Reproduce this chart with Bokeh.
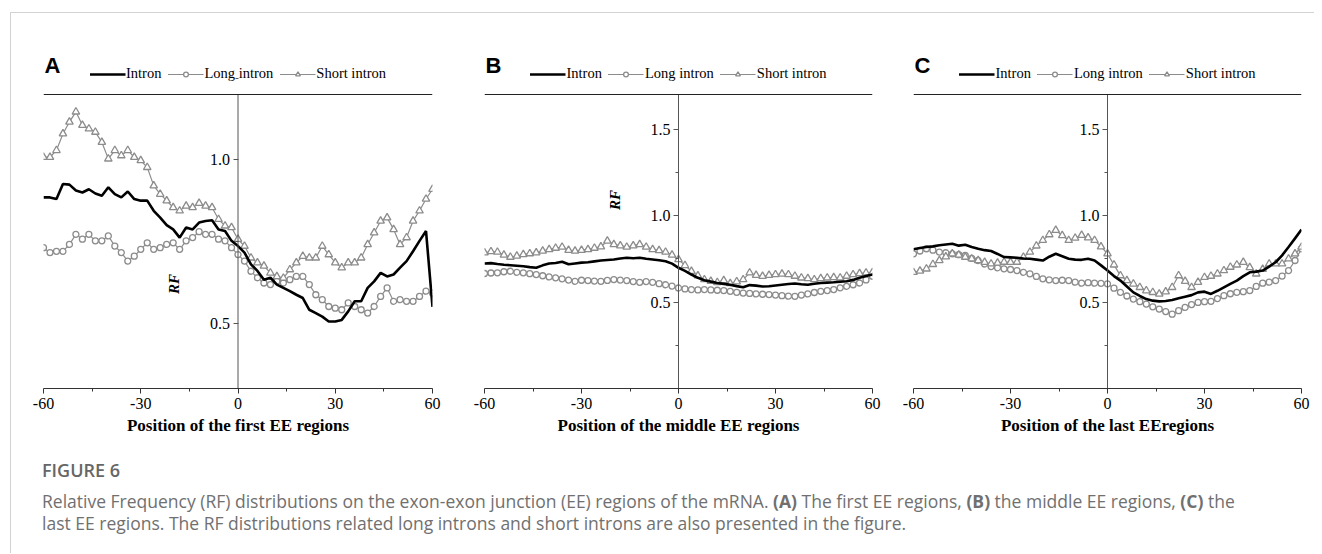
from math import pi
from bokeh.plotting import figure
from bokeh.models import (FixedTicker, PrintfTickFormatter, Legend, LegendItem, Label, Div,
                          Range1d, Span)
from bokeh.layouts import row, column
from bokeh.embed import file_html
from bokeh.resources import INLINE

positions = list(range(-60, 61, 2))

a_intron = [.885, .885, .880, .926, .924, .906, .900, .910, .897, .890, .916, .895, .885, .903, .880, .875,
            .875, .844, .823, .800, .787, .762, .793, .787, .808, .813, .815, .787, .782, .752, .736, .716,
            .680, .660, .633, .639, .618, .608, .598, .587, .577, .541, .531, .520, .505, .505, .510, .536,
            .567, .567, .608, .628, .654, .643, .649, .670, .690, .720, .752, .782, .550]
a_long = [.731, .716, .720, .720, .741, .772, .757, .772, .752, .752, .767, .736, .716, .690, .705, .726,
          .746, .726, .731, .741, .746, .726, .752, .762, .780, .772, .772, .757, .752, .731, .710, .690,
          .659, .639, .623, .618, .628, .623, .633, .643, .643, .618, .587, .572, .551, .546, .541, .562,
          .551, .541, .531, .551, .582, .608, .567, .572, .567, .567, .582, .598, .592]
a_short = [1.008, 1.008, 1.029, 1.080, 1.116, 1.147, 1.106, 1.095, 1.085, 1.054, 1.003, 1.029, 1.013, 1.029,
           1.008, .998, .977, .921, .895, .875, .854, .844, .859, .854, .867, .859, .854, .818, .798, .793,
           .757, .736, .700, .685, .675, .654, .643, .638, .664, .685, .705, .700, .700, .736, .710, .685,
           .670, .685, .685, .700, .741, .777, .813, .823, .787, .741, .762, .813, .844, .880, .910]

b_intron = [.723, .725, .720, .716, .713, .710, .707, .702, .698, .712, .723, .726, .733, .718, .723, .728,
            .730, .735, .740, .743, .746, .752, .756, .753, .756, .750, .746, .742, .736, .722, .698, .680,
            .659, .640, .626, .618, .610, .605, .600, .592, .585, .598, .595, .590, .591, .596, .600, .604,
            .607, .603, .600, .606, .610, .612, .614, .617, .620, .628, .640, .650, .659]
b_long = [.665, .668, .669, .675, .678, .672, .669, .664, .659, .652, .645, .640, .634, .627, .620, .626,
          .624, .621, .620, .625, .630, .627, .624, .618, .614, .618, .614, .606, .600, .592, .581, .576,
          .572, .570, .572, .570, .568, .566, .562, .556, .552, .550, .547, .545, .543, .540, .537, .534,
          .533, .540, .547, .555, .562, .566, .572, .582, .591, .600, .610, .628, .649]
b_short = [.785, .792, .789, .772, .760, .766, .775, .780, .785, .795, .804, .812, .818, .800, .795, .800,
           .804, .812, .820, .853, .833, .826, .818, .826, .833, .818, .804, .798, .789, .772, .746, .712,
           .678, .652, .630, .620, .614, .625, .607, .618, .630, .669, .655, .649, .655, .659, .662, .659,
           .650, .640, .636, .630, .636, .640, .642, .640, .650, .659, .665, .669, .672]

c_intron = [.805, .812, .818, .822, .828, .833, .837, .826, .831, .818, .808, .800, .795, .778, .760, .758,
            .756, .752, .750, .745, .740, .762, .779, .765, .750, .745, .744, .750, .740, .712, .682, .650,
            .624, .590, .556, .535, .517, .508, .504, .506, .512, .522, .531, .540, .556, .560, .547, .565,
            .585, .605, .624, .650, .672, .676, .682, .705, .730, .770, .818, .868, .919]
c_long = [.779, .795, .808, .800, .789, .785, .779, .774, .769, .752, .740, .720, .705, .698, .692, .688,
          .682, .672, .663, .648, .634, .628, .624, .626, .624, .615, .609, .612, .609, .608, .605, .580,
          .556, .535, .517, .502, .488, .472, .459, .445, .430, .450, .469, .485, .498, .502, .504, .520,
          .537, .548, .556, .560, .566, .590, .609, .615, .624, .650, .682, .740, .808]
c_short = [.672, .680, .692, .718, .740, .762, .779, .772, .760, .750, .740, .730, .721, .726, .731, .730,
           .731, .760, .789, .825, .857, .890, .915, .885, .857, .870, .886, .872, .857, .820, .779, .715,
           .653, .625, .605, .585, .566, .556, .547, .560, .585, .653, .620, .585, .615, .643, .650, .663,
           .682, .702, .715, .730, .700, .663, .690, .721, .721, .721, .750, .779, .818]

series_names = ["Intron", "Long intron", "Short intron"]
x_ticks = [-60, -30, 0, 30, 60]
x_minor = [-45, -15, 15, 45]

SERIF = "Liberation Serif"
GRAY = "#8c8c8c"
PLOT_H = 294      # height of the boxed data area (px)
HEAD_H = 76       # legend / letter band above the box (px)
FRAME_H = PLOT_H + HEAD_H
TOP = 5
BOTTOM = 52


def make_panel(letter, xlabel, intron, long_, short, y_start, y_end, yticks, frame_w, left, right,
               rf_y=None):
    y_max = y_start + (y_end - y_start) * FRAME_H / PLOT_H
    p = figure(frame_width=frame_w, frame_height=FRAME_H,
               x_range=Range1d(-60, 60), y_range=Range1d(y_start, y_max),
               output_backend="svg", toolbar_location=None, title=None,
               min_border_left=left, min_border_right=right, min_border_top=TOP,
               min_border_bottom=BOTTOM)
    p.outline_line_color = None
    p.xgrid.visible = False
    p.ygrid.visible = False

    lr = p.line(positions, long_, line_color=GRAY, line_width=1.2)
    lm = p.scatter(positions, long_, marker="circle", size=6, line_color=GRAY, fill_color="white",
                   line_width=1.3)
    sr = p.line(positions, short, line_color=GRAY, line_width=1.2)
    sm = p.scatter(positions, short, marker="triangle", size=7.5, line_color=GRAY, fill_color="white",
                   line_width=1.3)
    ir = p.line(positions, intron, line_color="black", line_width=2.6)

    xa = p.xaxis[0]
    xa.ticker = FixedTicker(ticks=x_ticks, minor_ticks=x_minor)
    xa.formatter = PrintfTickFormatter(format="%d")
    xa.axis_label = xlabel
    xa.axis_label_text_font = SERIF
    xa.axis_label_text_font_style = "bold"
    xa.axis_label_text_font_size = "17px"
    xa.axis_label_text_color = "black"
    xa.axis_label_standoff = 4
    xa.major_label_text_font = SERIF
    xa.major_label_text_font_size = "16px"
    xa.major_label_text_color = "black"
    xa.major_label_standoff = 4
    xa.major_tick_out = 5
    xa.major_tick_in = 0
    xa.minor_tick_out = 3
    xa.minor_tick_in = 0
    xa.axis_line_color = "#333333"
    xa.major_tick_line_color = "#333333"
    xa.minor_tick_line_color = "#333333"

    ya = p.yaxis[0]
    ya.fixed_location = 0
    ya.ticker = FixedTicker(ticks=yticks, minor_ticks=[0.25, 0.75, 1.25])
    ya.formatter = PrintfTickFormatter(format="%.1f")
    ya.major_label_text_font = SERIF
    ya.major_label_text_font_size = "16px"
    ya.major_label_text_color = "black"
    ya.major_label_standoff = 3
    ya.major_tick_out = 5
    ya.major_tick_in = 0
    ya.minor_tick_out = 3
    ya.minor_tick_in = 0
    ya.axis_line_color = None
    ya.major_tick_line_color = "#555555"
    ya.minor_tick_line_color = "#555555"
    # vertical axis line through x = 0, from the bottom to the top line of the box
    p.segment(x0=[0], y0=[y_start], x1=[0], y1=[y_end], line_color="#555555", line_width=1)

    # top line of the box
    p.add_layout(Span(location=y_end, dimension="width", line_color="#222222", line_width=1.2))

    legend = Legend(items=[LegendItem(label=series_names[0], renderers=[ir]),
                           LegendItem(label=series_names[1], renderers=[lr, lm]),
                           LegendItem(label=series_names[2], renderers=[sr, sm])],
                    orientation="horizontal", location="top_center",
                    label_text_font=SERIF, label_text_font_size="14.5px", label_text_color="black",
                    glyph_width=36, glyph_height=12, label_standoff=1, spacing=6, padding=0,
                    margin=47, border_line_color=None, background_fill_alpha=0)
    p.add_layout(legend)

    p.add_layout(Label(x=-60, y=y_max, x_offset=1, y_offset=-47, text=letter,
                       text_font="Liberation Sans", text_font_style="bold", text_font_size="22px",
                       text_color="black", text_baseline="alphabetic", text_align="left"))

    if rf_y is not None:
        p.add_layout(Label(x=0, y=rf_y, x_offset=-64, text="RF", angle=pi / 2,
                           text_font=SERIF, text_font_style="bold italic", text_font_size="15px",
                           text_align="center", text_baseline="middle", text_color="black"))
    return p


pA = make_panel("A", "Position of the first EE regions", a_intron, a_long, a_short,
                0.3, 1.2, [0.5, 1.0], 389, 32, 24, rf_y=0.62)
pB = make_panel("B", "Position of the middle EE regions", b_intron, b_long, b_short,
                0.0, 1.7, [0.5, 1.0, 1.5], 388, 28, 13, rf_y=1.09)
pC = make_panel("C", "Position of the last EEregions", c_intron, c_long, c_short,
                0.0, 1.7, [0.5, 1.0, 1.5], 388, 28, 13)

caption = Div(text=(
    '<div style="font-family:\'Open Sans\';">'
    '<div style="font-size:18px;font-weight:600;color:#666666;line-height:24px;">FIGURE 6</div>'
    '<div style="font-size:17.5px;color:#707070;line-height:22px;margin-top:8px;">'
    'Relative Frequency (RF) distributions on the exon-exon junction (EE) regions of the mRNA. '
    '<b>(A)</b> The first EE regions, <b>(B)</b> the middle EE regions, <b>(C)</b> the last EE regions. '
    'The RF distributions related long introns and short introns are also presented in the figure.'
    '</div></div>'), width=1208, height=95, margin=(18, 0, 0, 31))

layout = column(row(pA, pB, pC), caption,
                styles={"border-left": "1px solid #d2d2d2", "border-top": "1px solid #d2d2d2",
                        "margin-left": "10px", "margin-top": "12px"})

open("out.html", "w").write(file_html(layout, INLINE))
